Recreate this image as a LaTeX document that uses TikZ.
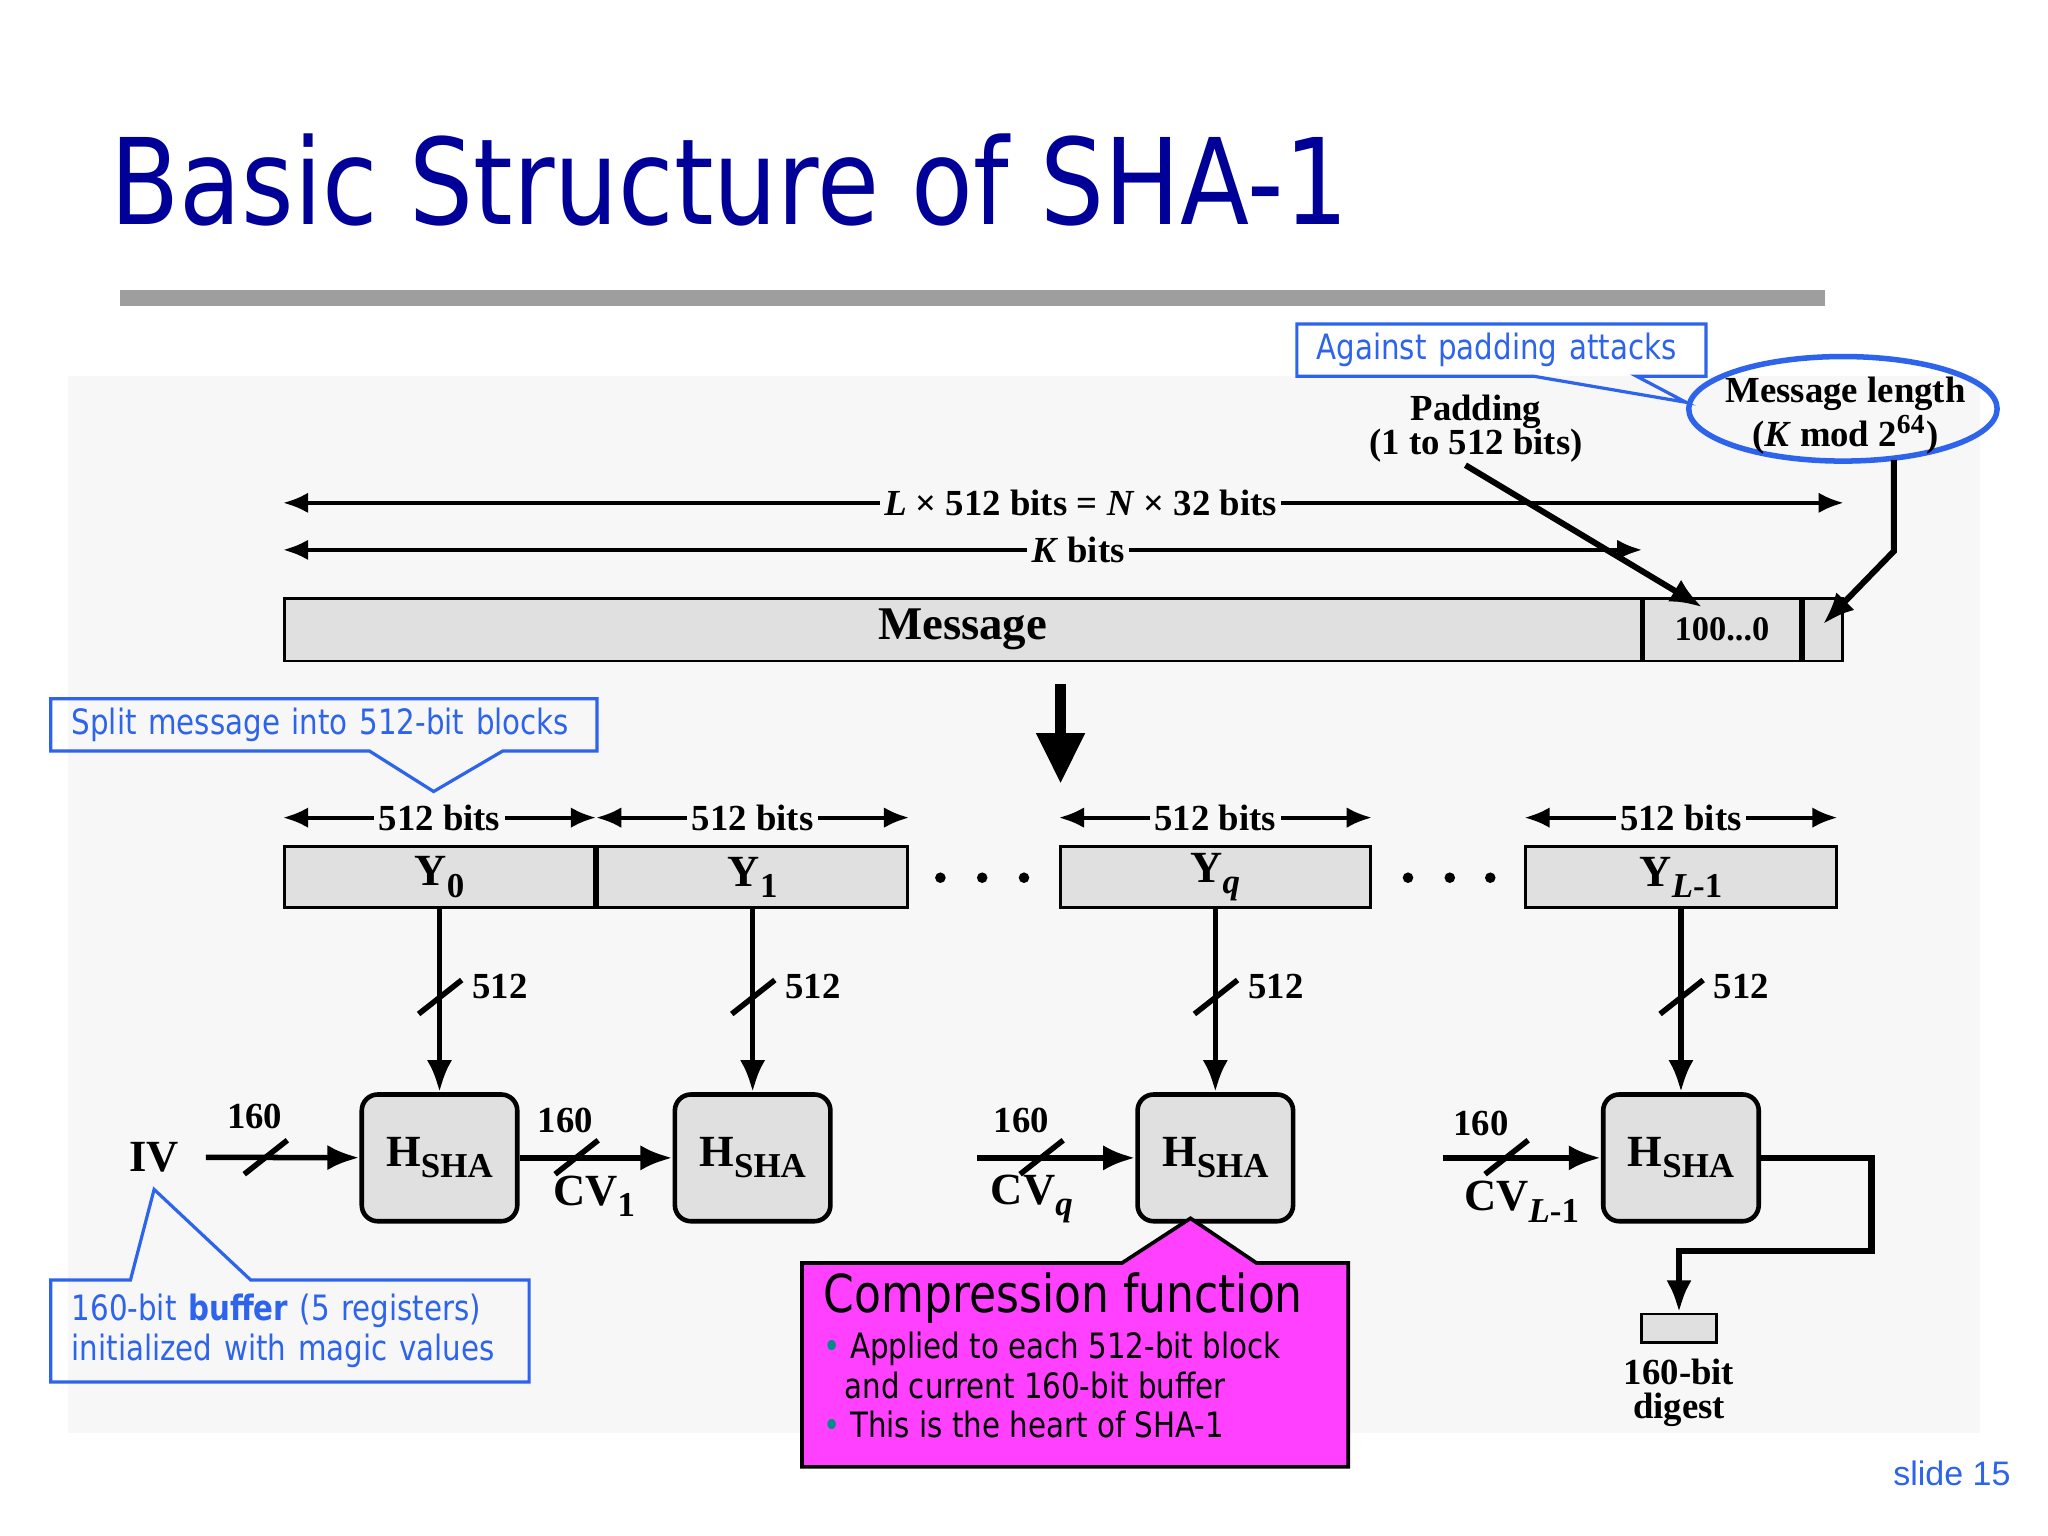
\documentclass[tikz,border=0pt]{standalone}
\usepackage{fontspec}
\setmainfont{Liberation Serif}
\newfontfamily\titlefont[FakeStretch=0.845]{DejaVu Sans}
\newfontfamily\notefont[FakeStretch=0.84]{DejaVu Sans}
\newfontfamily\slidefont{Liberation Sans}
\usetikzlibrary{arrows.meta,positioning,calc}
\usetikzlibrary{shapes.geometric}

\definecolor{titleblue}{RGB}{0,0,153}
\definecolor{noteblue}{RGB}{45,100,235}
\definecolor{panel}{RGB}{247,247,247}
\definecolor{cellfill}{RGB}{224,224,224}
\definecolor{pinkfill}{RGB}{255,64,255}
\definecolor{dotteal}{RGB}{0,140,140}

\newcommand{\lowsub}[1]{\raisebox{-0.55ex}{\fontsize{7.6pt}{8pt}\selectfont #1}}

\begin{document}
\begin{tikzpicture}[x=0.01cm,y=-0.01cm,
	cell/.style={draw=black, line width=0.6pt, fill=cellfill, minimum height=0.48cm, inner sep=0pt},
	block/.style={cell, minimum width=2.375cm, minimum height=0.47cm, font=\fontsize{9.7pt}{10pt}\selectfont\bfseries},
	hbox/.style={draw=black, line width=1pt, fill=cellfill, rounded corners=3.5pt, minimum width=1.19cm, minimum height=0.97cm, inner sep=0pt, font=\fontsize{9.7pt}{10pt}\selectfont\bfseries},
	lbl/.style={font=\fontsize{8pt}{7.5pt}\selectfont\bfseries, inner sep=1pt},
	big/.style={font=\fontsize{9.7pt}{10pt}\selectfont\bfseries, inner sep=1pt},
	dim/.style={line width=0.9pt, {Latex[length=5.5pt,width=4.5pt]}-{Latex[length=5.5pt,width=4.5pt]}},
	flow/.style={line width=1.2pt, -{Latex[length=7pt,width=5.5pt]}},
	tick/.style={line width=1.2pt},
	note/.style={draw=noteblue, line width=0.7pt},
	notetext/.style={font=\notefont\fontsize{7.6pt}{8.6pt}\selectfont, text=noteblue, align=left, inner ysep=0pt, outer sep=0pt}]

	\useasboundingbox (0,0) rectangle (1568,1176);
	\fill[white] (0,0) rectangle (1568,1176);
	\fill[panel] (52,288) rectangle (1516,1097);

	% title and rule
	\node[anchor=base west, inner sep=0pt, text=titleblue, font=\titlefont\fontsize{26pt}{28pt}\selectfont] (title) at (84,172) {Basic Structure of SHA-1};
	\fill[black!38] (92,222) rectangle (1397,234);

	% padded message
	\node[cell, minimum width=10.38cm, font=\fontsize{10.2pt}{11pt}\selectfont\bfseries] (msg) at (737,482) {Message};
	\node[cell, minimum width=1.2cm, font=\fontsize{7.5pt}{8pt}\selectfont\bfseries, right=0pt of msg] (pad) {100...0};
	\node[cell, minimum width=0.3cm, right=0pt of pad] (len) {};

	\draw[dim] (msg.west |- 0,385) -- node[lbl, fill=panel, pos=0.511] (lenlbl) {\textit{L} × 512 bits = \textit{N} × 32 bits} (len.east |- 0,385);
	\draw[dim] (msg.west |- 0,421) -- node[lbl, fill=panel, pos=0.585] (klbl) {\textit{K} bits} (msg.east |- 0,421);

	\node[lbl, align=center] (padtxt) at (1130,328) {Padding\\(1 to 512 bits)};
	\draw[flow, line width=1.3pt] ([shift={(-8,-2)}]padtxt.south) -- ([shift={(46,8)}]pad.north west);

	\node[ellipse, draw=noteblue, line width=1.2pt, minimum width=2.36cm, minimum height=0.8cm, inner sep=0pt] (ring) at (1411,313) {};
	\node[lbl, align=center, font=\fontsize{8pt}{8.5pt}\selectfont\bfseries] (mlen) at (1413,318) {Message length\\(\textit{K} mod 2\textsuperscript{64})};
	\coordinate (mbend) at (1450,422);
	\draw[flow, line width=1.3pt] ([shift={(0,-3)}]ring.south -| mbend) -- (mbend) -- ([shift={(0,-4)}]len.center);

	\coordinate (splitA) at (812,524);
	\coordinate (splitB) at (812,600);
	\draw[line width=2.4pt, -{Triangle[length=11pt,width=10pt]}] (splitA) -- (splitB);

	% blocks and compression boxes
	\node[block] (y0) at (336.5,671.5) {Y\lowsub{0}};
	\node[block, right=0pt of y0] (y1) {Y\lowsub{1}};
	\node[block] (yq) at (930.5,671.5) {Y\lowsub{\textit{q}}};
	\node[block] (yl) at (1287,671.5) {Y\lowsub{\textit{L}-1}};
	\foreach \x in {720,752,784,1078,1110,1141}
		\fill (\x,672) circle[radius=1.15pt];

	\node[hbox] (h0) at (y0 |- 0,886.5) {H\lowsub{SHA}};
	\node[hbox] (h1) at (y1 |- 0,886.5) {H\lowsub{SHA}};
	\node[hbox] (hq) at (yq |- 0,886.5) {H\lowsub{SHA}};
	\node[hbox] (hl) at (yl |- 0,886.5) {H\lowsub{SHA}};

	\foreach \blk/\hb in {y0/h0,y1/h1,yq/hq,yl/hl}{
		\draw[flow] (\blk) -- (\hb);
		\draw[dim] (\blk.west |- 0,626) -- node[lbl, fill=panel] (w\blk) {512 bits} (\blk.east |- 0,626);
		\coordinate (m) at ($(\blk.south)!0.48!(\hb.north)$);
		\draw[tick] ([shift={(-16,13)}]m) -- ([shift={(17,-13)}]m);
		\node[lbl, anchor=west] (n\blk) at ([shift={(21,-8)}]m) {512};
	}

	% chaining values
	\node[big] (iv) at (118,886) {IV};
	\coordinate (cvq) at (748,886.5);
	\coordinate (cvl) at (1105,886.5);
	\draw[flow, shorten <=4.7pt] (iv) -- (h0);
	\draw[flow] (h0) -- (h1);
	\draw[flow] (cvq) -- (hq);
	\draw[flow] (cvl) -- (hl);
	\foreach \x in {203,441,797,1153}
		\draw[tick] (\x-16,899) -- (\x+17,873);
	\node[lbl] (c0) at (195,855) {160};
	\node[lbl] (c1) at (433,858) {160};
	\node[lbl] (c2) at (782,858) {160};
	\node[lbl] (c3) at (1134,860) {160};
	\node[big] (cv1) at (455,916) {CV\lowsub{1}};
	\node[big] (cvqt) at (790,918) {CV\lowsub{\textit{q}}};
	\node[big] (cvlt) at (1165,920) {CV\lowsub{\textit{L}-1}};

	\node[cell, minimum width=0.57cm, minimum height=0.22cm] (digest) at (1285.5,1017) {};
	\node[lbl, below=2pt of digest, align=center] (digtxt) {160-bit\\digest};
	\coordinate (outturn) at (1433,958);
	\draw[flow, line width=1.4pt] (hl.east) -| (outturn) -| (digest.north);

	% callouts
	\node[notetext, text width=2.83cm, inner xsep=0.15cm, minimum height=0.4cm] (padnote) at (1149.5,268) {Against padding attacks};
	\draw[note] ([shift={(181,0)}]padnote.south west) -- (padnote.south west) -- (padnote.north west) -- (padnote.north east) -- (padnote.south east) -- ([shift={(260,0)}]padnote.south west) -- ([shift={(0,-5)}]ring.west) -- cycle;

	\node[notetext, text width=3.86cm, inner xsep=0.16cm, minimum height=0.4cm] (splitnote) at (248,555) {Split message into 512-bit blocks};
	\coordinate (splittip) at (332,606);
	\draw[note] ([shift={(244,0)}]splitnote.south west) -- (splitnote.south west) -- (splitnote.north west) -- (splitnote.north east) -- (splitnote.south east) -- ([shift={(346,0)}]splitnote.south west) -- (splittip) -- cycle;

	\node[notetext, text width=3.34cm, inner xsep=0.16cm, minimum height=0.78cm] (ivnote) at (222,1019) {160-bit \textbf{buffer} (5 registers)\\initialized with magic values};
	\draw[note] ([shift={(153,0)}]ivnote.north west) -- (ivnote.north east) -- (ivnote.south east) -- (ivnote.south west) -- (ivnote.north west) -- ([shift={(61,0)}]ivnote.north west) -- ([shift={(0,9)}]iv.south) -- cycle;

	\node[anchor=north west, minimum width=4.18cm, minimum height=1.56cm, inner sep=0pt, outer sep=0pt] (compnote) at (614,967) {};
	\filldraw[fill=pinkfill, draw=black, line width=0.8pt] ([shift={(245,0)}]compnote.north west) -- ([shift={(-19,-4)}]hq.south) -- ([shift={(348,0)}]compnote.north west) -- (compnote.north east) -- (compnote.south east) -- (compnote.south west) -- (compnote.north west) -- cycle;
	\node[anchor=north west, inner sep=0pt, align=left, font=\notefont\fontsize{7.6pt}{8.6pt}\selectfont] (comptext) at (630,974) {{\fontsize{11.4pt}{12pt}\selectfont Compression function}\\[1.4pt]
		\textcolor{dotteal}{\textbullet}\hspace{2pt}Applied to each 512-bit block\\
		\hspace{4.5pt}and current 160-bit buffer\\
		\textcolor{dotteal}{\textbullet}\hspace{2pt}This is the heart of SHA-1};

	\node[text=noteblue, font=\slidefont\fontsize{7.4pt}{8pt}\selectfont, anchor=base east, inner sep=0pt] (slideno) at (1540,1137) {slide 15};
\end{tikzpicture}
\end{document}
